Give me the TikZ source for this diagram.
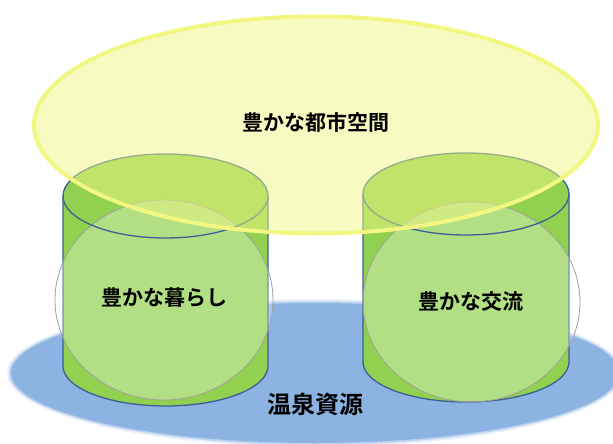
\documentclass[tikz,border=0pt]{standalone}
\usepackage{fontspec}
\newfontfamily\jpfont{Noto Sans CJK JP}[BoldFont={Noto Sans CJK JP Bold}]
\definecolor{spring}{RGB}{141,179,226}
\definecolor{leaf}{RGB}{146,208,80}
\definecolor{rim}{RGB}{60,95,150}
\definecolor{cityfill}{RGB}{239,247,131}
\definecolor{cityline}{RGB}{241,247,128}
\begin{document}
\begin{tikzpicture}[x=1pt, y=-1pt,
    cyl/.style={fill=leaf},
    cylrim/.style={draw=rim, line width=1.3pt},
    ring/.style={fill=white, fill opacity=0.3, draw=gray!75, line width=0.8pt},
    lbl/.style={font=\jpfont\bfseries\fontsize{21}{21}\selectfont, inner sep=0pt}]
    \useasboundingbox (0,0) rectangle (613,444);

    % hot spring base
    \fill[spring, opacity=0.2] (315,373) ellipse [x radius=308, y radius=74];
    \fill[spring, opacity=0.45] (315,373) ellipse [x radius=306, y radius=72];
    \fill[spring] (315,373) ellipse [x radius=304, y radius=70];

    % left cylinder
    \fill[cyl] (165.5,366) ellipse [x radius=102.5, y radius=40];
    \fill[cyl] (63,196) rectangle (268,366);
    \fill[cyl] (165.5,196) ellipse [x radius=102.5, y radius=42];
    \draw[cylrim] (63,196) -- (63,366) arc [start angle=180, end angle=0, x radius=102.5, y radius=40] -- (268,196);

    % right cylinder
    \fill[cyl] (466,362) ellipse [x radius=103, y radius=40];
    \fill[cyl] (363,194) rectangle (569,362);
    \fill[cyl] (466,194) ellipse [x radius=103, y radius=41];
    \draw[cylrim] (363,194) -- (363,362) arc [start angle=180, end angle=0, x radius=103, y radius=40] -- (569,194);

    % circles
    \draw[ring] (164,300) ellipse [x radius=109, y radius=100];
    \draw[ring] (471.5,302) ellipse [x radius=108.5, y radius=100];

    \draw[cylrim] (165.5,196) ellipse [x radius=102.5, y radius=42];
    \draw[cylrim] (466,194) ellipse [x radius=103, y radius=41];

    % city space
    \fill[cityfill, opacity=0.5] (316,125) ellipse [x radius=282, y radius=108.5];
    \draw[cityline, line width=4pt] (316,125) ellipse [x radius=282, y radius=108.5];

    \node[lbl] (city) at (316,122) {豊かな都市空間};
    \node[lbl] (life) at (164,298) {豊かな暮らし};
    \node[lbl] (meet) at (471,302) {豊かな交流};
    \node[lbl, font=\jpfont\bfseries\fontsize{24}{24}\selectfont] (spa) at (315,404) {温泉資源};
\end{tikzpicture}
\end{document}
